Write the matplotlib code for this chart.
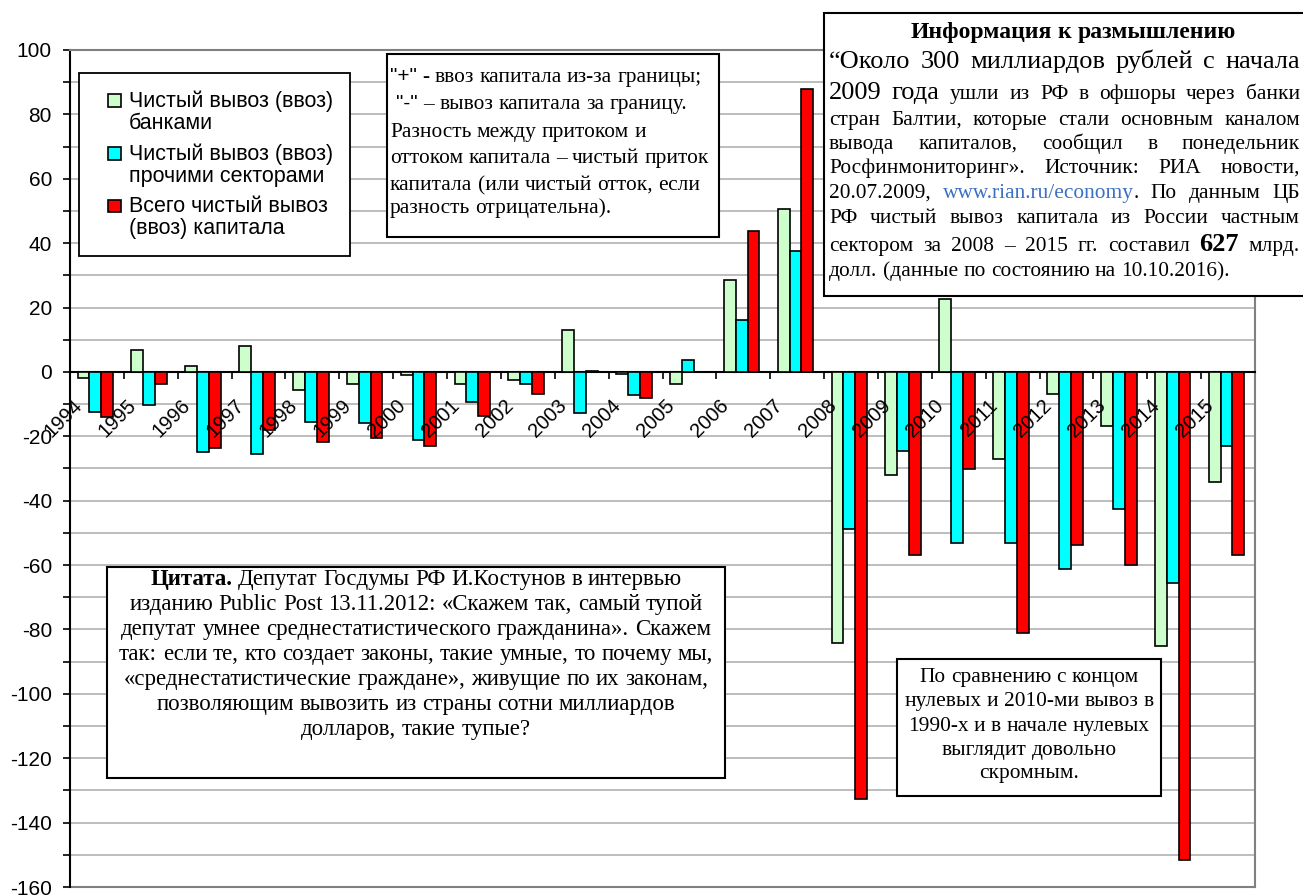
import matplotlib
matplotlib.use("Agg")
import matplotlib.pyplot as plt
import numpy as np
from matplotlib.patches import Rectangle
from matplotlib.container import BarContainer
from matplotlib.legend_handler import HandlerPatch, update_from_first_child
from matplotlib.transforms import ScaledTranslation

# net capital flows of the private sector, bln USD
years = [str(y) for y in range(1994, 2016)]
banks = [-1.9, 6.9, 1.9, 8.2, -5.6, -3.7, -1.0, -3.7, -2.5, 13.1, -0.5, -3.7,
         28.5, 50.5, -84.1, -32.0, 22.7, -27.0, -7.0, -16.7, -85.1, -34.1]
others = [-12.4, -10.3, -24.8, -25.4, -15.5, -16.0, -21.2, -9.3, -3.7, -12.9, -7.2, 3.8,
          16.2, 37.5, -48.8, -24.6, -53.1, -53.1, -61.2, -42.6, -65.5, -22.9]
total = [-13.9, -3.7, -23.5, -18.1, -21.7, -20.6, -22.9, -13.6, -6.9, 0.2, -8.1, 0.1,
         43.7, 88.0, -132.8, -57.0, -30.1, -81.1, -53.7, -60.1, -151.7, -57.0]
series_names = ["Чистый вывоз (ввоз)\nбанками",
                "Чистый вывоз (ввоз)\nпрочими секторами",
                "Всего чистый вывоз\n(ввоз) капитала"]
colors = ["#CCFFCC", "#00FFFF", "#FF0000"]

SANS = "Liberation Sans"
SERIF = "Liberation Serif"
W, H = 1303, 896

plt.rcParams["font.family"] = SANS
plt.rcParams["axes.unicode_minus"] = False

fig = plt.figure(figsize=(W / 100, H / 100), dpi=100)
renderer = fig.canvas.get_renderer()


def fx(x):
    return x / W


def fy(y):
    return 1 - y / H


ax = fig.add_axes([fx(70), fy(887), (1255 - 70) / W, (887 - 50) / H])
# x axis crosses at zero (set first: moving the spine rebuilds the ticks)
ax.spines["bottom"].set_position(("data", 0))

x = np.arange(len(years))
w = 0.22
for k, (vals, name, col) in enumerate(zip([banks, others, total], series_names, colors)):
    ax.bar(x + (k - 1) * w - 0.03, vals, w, color=col, edgecolor="black",
           linewidth=1.2, label=name, zorder=3)

ax.set_xlim(-0.5, len(years) - 0.5)
ax.set_ylim(-160, 100)
ax.set_yticks(np.arange(-160, 101, 20))
ax.set_yticks(np.arange(-150, 100, 20), minor=True)
ax.yaxis.grid(True, which="both", color="#BDBDBD", linewidth=1.4)
ax.set_axisbelow(True)
ax.tick_params(axis="y", which="both", direction="out", length=5, width=1.2,
               labelsize=15, pad=8)

ax.set_xticks(x)
ax.set_xticks(x[:-1] + 0.5, minor=True)
ax.tick_params(axis="x", which="major", length=0, pad=17)
ax.tick_params(axis="x", which="minor", direction="out", length=5, width=1.2)
ax.set_xticklabels(years, rotation=45, ha="right", va="top", fontsize=14.5)
shift = ScaledTranslation(-0.11, 0, fig.dpi_scale_trans)
for lab in ax.get_xticklabels():
    lab.set_transform(lab.get_transform() + shift)
ax.xaxis.set_zorder(4)

ax.spines["bottom"].set_linewidth(1.5)
ax.spines["left"].set_linewidth(1.5)
for side in ("top", "right"):
    ax.spines[side].set_color("#808080")
    ax.spines[side].set_linewidth(1.5)
ax.axhline(-160, color="#808080", linewidth=1.5, clip_on=False, zorder=1)


def legend_square(legend, orig_handle, xdescent, ydescent, width, height, fontsize):
    # small square on the right of the handle box, level with the first text line
    s = 0.58 * fontsize
    return Rectangle((width - s - xdescent, -ydescent + (height - s) / 2 + 0.55 * fontsize), s, s)


leg = ax.legend(loc="upper left", bbox_to_anchor=(fx(79), fy(73)),
                bbox_transform=fig.transFigure, borderaxespad=0,
                prop={"family": SANS, "size": 15.5}, fancybox=False,
                edgecolor="black", framealpha=1, handlelength=1.15,
                handleheight=0.65, handletextpad=0.35, labelspacing=0.45,
                borderpad=0.8,
                handler_map={BarContainer: HandlerPatch(patch_func=legend_square,
                                                        update_func=update_from_first_child)})
leg.get_frame().set_linewidth(1.3)
for t in leg.get_texts():
    t.set_linespacing(1.05)


def box(x0, y0, x1, y1):
    fig.add_artist(Rectangle((fx(x0), fy(y1)), (x1 - x0) / W, (y1 - y0) / H,
                             transform=fig.transFigure, facecolor="white",
                             edgecolor="black", linewidth=1.5, zorder=4))


def line(y, x0, runs, x1=None, align="left"):
    """Draw one text line made of runs (text, props); justify, center or left-align it.
    A run that does not start with a space sticks to the previous word."""
    words = []
    for i, (txt, props) in enumerate(runs):
        parts = txt.split()
        for j, part in enumerate(parts):
            if j == 0 and i > 0 and not txt[0].isspace() and words:
                words[-1].append((part, props))
            else:
                words.append([(part, props)])
    placed, widths, spaces = [], [], []
    for segs in words:
        objs = []
        for part, props in segs:
            t = fig.text(0, fy(y), part, va="baseline", ha="left", zorder=5, **props)
            objs.append((t, t.get_window_extent(renderer).width))
        placed.append(objs)
        widths.append(sum(wd for _, wd in objs))
        spaces.append(0.25 * segs[0][1].get("size", 14) * 100 / 72)
    if align == "justify" and len(placed) > 1:
        gap = [(x1 - x0 - sum(widths)) / (len(placed) - 1)] * len(placed)
    else:
        gap = spaces
    total_w = sum(widths) + sum(gap[1:])
    pos = x0 if align != "center" else x0 - total_w / 2
    for i, objs in enumerate(placed):
        if i > 0:
            pos += gap[i]
        for t, wd in objs:
            t.set_x(fx(pos))
            pos += wd


small = {"family": SERIF, "size": 15.4}
big = {"family": SERIF, "size": 19}
sans = {"family": SANS, "size": 15}

# explanation of signs
box(387, 54, 719, 237)
line(82, 390, [('"+"', sans), (" - ввоз капитала из-за границы;", small)])
line(109, 396, [('"-"', sans), (" – вывоз капитала за границу.", small)])
line(137, 390, [("Разность между притоком и", small)])
line(163, 390, [("оттоком капитала – чистый приток", small)])
line(190, 390, [("капитала (или чистый отток, если", small)])
line(213, 390, [("разность", small), ("  отрицательна).", small)])

# information block in the upper right corner
box(824, 13, 1322, 296)
line(38, 1073, [("Информация к размышлению", dict(small, size=17, weight="bold"))],
     align="center")
L, R = 829, 1300
line(68, L, [("“Около 300 миллиардов рублей с начала", big)], R, "justify")
line(99, L, [("2009 года", big), (" ушли из РФ в офшоры через банки", small)], R, "justify")
line(125, L, [("стран Балтии, которые стали основным каналом", small)], R, "justify")
line(149, L, [("вывода капиталов, сообщил в понедельник", small)], R, "justify")
line(173, L, [("Росфинмониторинг». Источник: РИА новости,", small)], R, "justify")
line(198, L, [("20.07.2009,", small), (" www.rian.ru/economy", dict(small, color="#3B6FC4")),
              (". По данным ЦБ", small)], R, "justify")
line(223, L, [("РФ чистый вывоз капитала из России частным", small)], R, "justify")
line(251, L, [("сектором за 2008 – 2015 гг. составил", small),
              (" 627", dict(big, weight="bold")), (" млрд.", small)], R, "justify")
line(276, L, [("долл. (данные по состоянию на 10.10.2016).", small)])

# quotation
quote = dict(small, size=16.5)
box(107, 567, 725, 778)
qc = 416
line(585, qc, [("Цитата.", dict(quote, weight="bold")),
               (" Депутат Госдумы РФ И.Костунов в интервью", quote)], align="center")
line(610, qc, [("изданию Public Post 13.11.2012: «Скажем так, самый тупой", quote)], align="center")
line(635, qc, [("депутат умнее среднестатистического гражданина». Скажем", quote)], align="center")
line(660, qc, [("так: если те, кто создает законы, такие умные, то почему мы,", quote)], align="center")
line(685, qc, [("«среднестатистические граждане», живущие по их законам,", quote)], align="center")
line(710, qc, [("позволяющим вывозить из страны сотни миллиардов", quote)], align="center")
line(735, qc, [("долларов, такие тупые?", quote)], align="center")

# comparison note
box(897, 659, 1161, 796)
nc = 1029
line(682, nc, [("По сравнению с концом", small)], align="center")
line(706, nc, [("нулевых и 2010-ми вывоз в", small)], align="center")
line(731, nc, [("1990-х и в начале нулевых", small)], align="center")
line(755, nc, [("выглядит довольно", small)], align="center")
line(778, nc, [("скромным.", small)], align="center")

fig.savefig("out.png", dpi=100)
